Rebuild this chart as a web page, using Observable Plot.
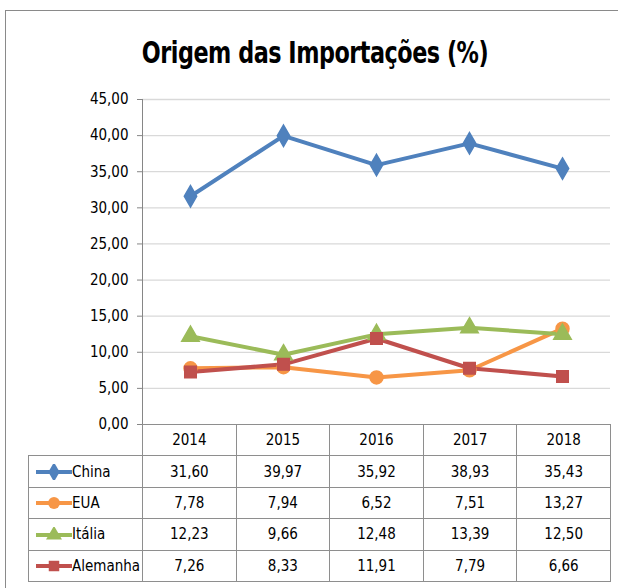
<!DOCTYPE html>
<html><head><meta charset="utf-8">
<script src="https://cdn.jsdelivr.net/npm/d3@7"></script>
<script src="https://cdn.jsdelivr.net/npm/@observablehq/plot@0.6"></script>
<style>
body{margin:0;background:#fff;font-family:"DejaVu Sans Condensed","DejaVu Sans",sans-serif;font-stretch:condensed;}
#wrap{position:relative;width:618px;height:588px;overflow:hidden;}
#border{position:absolute;left:5px;top:10px;width:700px;height:700px;border:1px solid #8a8a8a;box-sizing:border-box;}
#title{position:absolute;left:0;top:34px;width:630px;text-align:center;font-weight:bold;font-size:31px;color:#000;letter-spacing:-0.6px;font-stretch:condensed;transform:scaleX(0.8);transform-origin:315px 0;}
#chart{position:absolute;left:0;top:90px;}
#chart svg text{font-stretch:condensed;}
#tbl{position:absolute;left:28px;top:424px;border-collapse:collapse;table-layout:fixed;font-size:15px;color:#000;font-stretch:condensed;}
#tbl td{border:1px solid #8e8e8e;height:31.4px;padding:0;text-align:center;box-sizing:border-box;}
#tbl td.blank{border-top:none;border-left:none;border-bottom:1px solid #8e8e8e;}
#tbl td.key{text-align:left;white-space:nowrap;}
#tbl td.key svg{vertical-align:middle;}
</style></head>
<body><div id="wrap"><div id="border"></div><div id="title">Origem das Importações (%)</div><div id="chart"></div><table id="tbl"></table></div>
<script>
const years = ["2014","2015","2016","2017","2018"];
const seriesNames = ["China","EUA","Itália","Alemanha"];
const china = [31.60,39.97,35.92,38.93,35.43];
const eua = [7.78,7.94,6.52,7.51,13.27];
const italia = [12.23,9.66,12.48,13.39,12.50];
const alemanha = [7.26,8.33,11.91,7.79,6.66];
const yTicks = [0,5,10,15,20,25,30,35,40,45];
const colors = ["#4F81BD","#F79646","#9BBB59","#C0504D"];
const symbols = ["diamond","circle","triangle","square"];

const valuesBySeries = [china, eua, italia, alemanha];
const data = seriesNames.flatMap((s,i)=>years.map((y,j)=>({series:s, year:y, value:valuesBySeries[i][j]})));
const fmt = d => d.toFixed(2).replace(".",",");

const chart = Plot.plot({
  width:618, height:360,
  marginLeft:142, marginRight:8, marginTop:9, marginBottom:26,
  style:{fontFamily:'"DejaVu Sans Condensed","DejaVu Sans",sans-serif', fontSize:"14px", color:"#000", overflow:"visible"},
  x:{type:"point", domain:years, padding:0.5, axis:null},
  y:{domain:[0,45], axis:null},
  color:{domain:seriesNames, range:colors},
  symbol:{domain:seriesNames, range:symbols},
  marks:[
    Plot.gridY(yTicks.slice(1),{stroke:"#d9d9d9", strokeOpacity:1, strokeWidth:1.3}),
    Plot.axisY(yTicks,{tickSize:5, tickPadding:9, tickFormat:fmt, fontSize:15, stroke:"#868686", label:null}),
    Plot.frame({anchor:"left", stroke:"#868686"}),
    Plot.line(data,{x:"year", y:"value", z:"series", stroke:"series", strokeWidth:4}),
    Plot.dot(data,{x:"year", y:"value", symbol:"series", fill:"series", stroke:"series", r:6.5})
  ]
});
document.getElementById("chart").appendChild(chart);

// data table
const tbl = d3.select("#tbl").style("width","582px");
const cg = tbl.append("colgroup");
cg.append("col").style("width","114px");
years.forEach(()=>cg.append("col").style("width","93.6px"));
const hr = tbl.append("tr");
hr.append("td").attr("class","blank");
years.forEach(y=>hr.append("td").text(y));
const keySyms = [d3.symbolDiamond, d3.symbolCircle, d3.symbolTriangle, d3.symbolSquare];
seriesNames.forEach((s,i)=>{
  const tr = tbl.append("tr");
  const kc = tr.append("td").attr("class","key");
  const svg = kc.append("svg").attr("width",42).attr("height",16).style("margin-left","6px");
  svg.append("line").attr("x1",1).attr("x2",37).attr("y1",8).attr("y2",8).attr("stroke",colors[i]).attr("stroke-width",4);
  svg.append("path").attr("transform","translate(19,8)").attr("d",d3.symbol(keySyms[i],110)()).attr("fill",colors[i]);
  kc.append("span").text(s).style("margin-left","-5px");
  valuesBySeries[i].forEach(v=>tr.append("td").text(fmt(v)));
});
</script></body></html>
